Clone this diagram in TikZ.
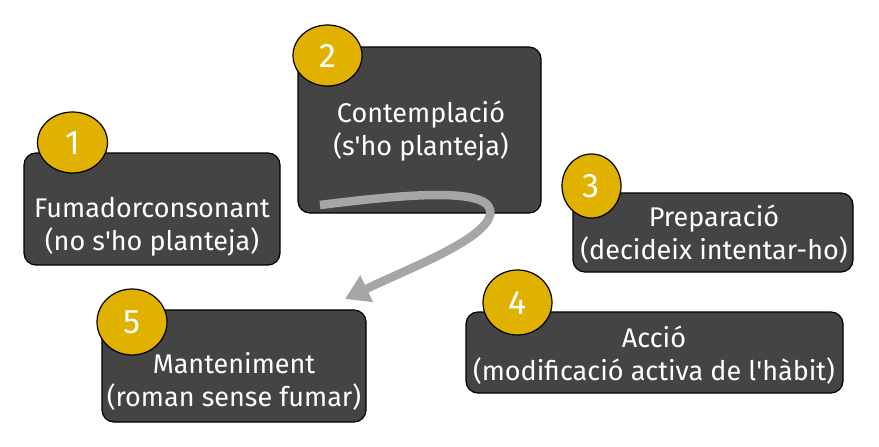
\documentclass[tikz,border=0pt]{standalone}
\usepackage{fontspec}
\setmainfont{Fira Sans}
\usetikzlibrary{arrows.meta}
\definecolor{boxgray}{HTML}{444444}
\definecolor{gold}{HTML}{E1B100}
\definecolor{arrowgray}{HTML}{A6A6A6}
\newcommand{\apos}{\textquotesingle}
\tikzset{
  stagebox/.style={draw=black, line width=1.2pt, fill=boxgray, rounded corners=12pt, inner sep=0pt},
  stagetext/.style={text=white, align=center, font=\fontsize{27}{33}\selectfont, inner sep=0pt},
  numdisk/.style={draw=black, line width=1.2pt, fill=gold},
  numtext/.style={text=white, font=\fontsize{34}{36}\selectfont, inner sep=0pt},
  flow/.style={draw=arrowgray, line width=8.5pt, -{Triangle[length=24pt,width=28pt]}}
}
\begin{document}
\begin{tikzpicture}[x=1pt,y=-1pt]
\useasboundingbox (0,0) rectangle (879,447);
% boxes
\node[stagebox, minimum width=256pt, minimum height=112pt] (b1) at (152,209) {};
\node[stagebox, minimum width=243pt, minimum height=166pt] (b2) at (419.5,130) {};
\node[stagebox, minimum width=280pt, minimum height=79pt] (b3) at (713,232.5) {};
\node[stagebox, minimum width=377pt, minimum height=81pt] (b4) at (654.5,352.5) {};
\node[stagebox, minimum width=264pt, minimum height=112pt] (b5) at (234,366) {};
% texts
\node[stagetext] (t1) at (152,226.5) {Fumadorconsonant\\(no s\apos ho planteja)};
\node[stagetext] (t2) at (421,131) {Contemplació\\(s\apos ho planteja)};
\node[stagetext] (t3) at (714,234.5) {Preparació\\(decideix intentar-ho)};
\node[stagetext] (t4) at (654,355) {Acció\\(modificació activa de l\apos hàbit)};
\node[stagetext] (t5) at (234,381.5) {Manteniment\\(roman sense fumar)};
% arrow
\coordinate (as) at (320,205);
\coordinate (am) at (490,215);
\coordinate (ae) at (345,299);
\draw[flow] (as) .. controls (400,195) and (497,185) .. (am) .. controls (484,240) and (410,268) .. (ae);
% number disks
\draw[numdisk] (72.5,142.5) ellipse [x radius=35, y radius=30.5];
\draw[numdisk] (327.5,55.5) ellipse [x radius=34.5, y radius=30.5];
\draw[numdisk] (591.5,186) ellipse [x radius=29.5, y radius=32];
\draw[numdisk] (517.5,302.5) ellipse [x radius=34.5, y radius=32.5];
\draw[numdisk] (132,322) ellipse [x radius=35, y radius=33];
\node[numtext] (n1) at (73,143) {1};
\node[numtext] (n2) at (328,56) {2};
\node[numtext] (n3) at (591,186) {3};
\node[numtext] (n4) at (518,303) {4};
\node[numtext] (n5) at (132,322) {5};
\end{tikzpicture}
\end{document}
